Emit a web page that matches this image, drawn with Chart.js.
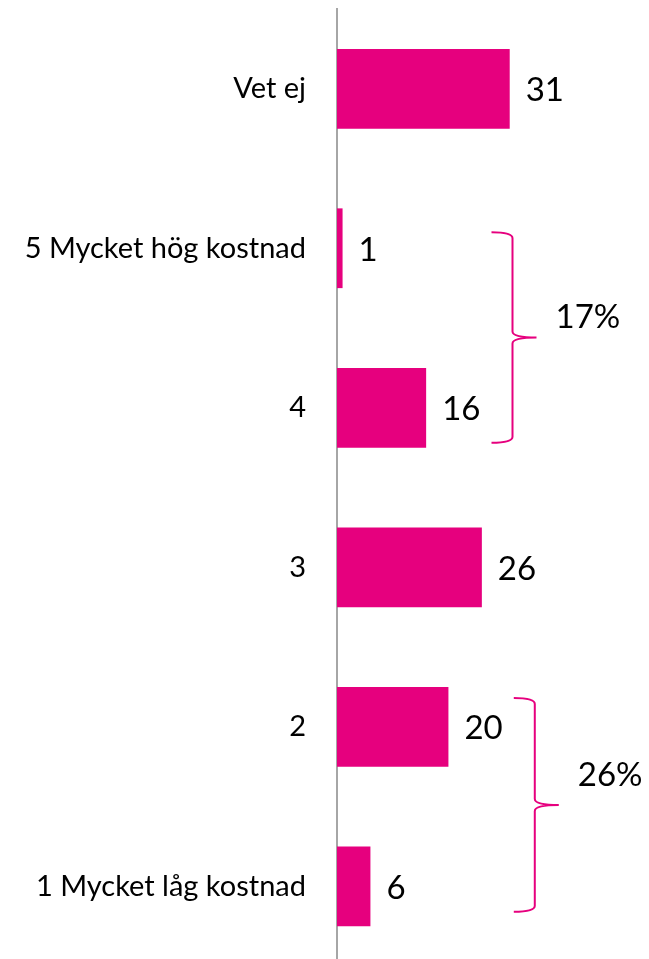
<!DOCTYPE html>
<html>
<head>
<meta charset="utf-8">
<script src="https://cdn.jsdelivr.net/npm/chart.js@4.4.0/dist/chart.umd.min.js"></script>
<style>
  html, body { margin: 0; padding: 0; background: #fff; overflow: hidden; }
  #wrap { width: 649px; height: 968px; }
</style>
</head>
<body>
<div id="wrap"><canvas id="chart" width="649" height="968"></canvas></div>
<script>
const categories = ['Vet ej', '5 Mycket hög kostnad', '4', '3', '2', '1 Mycket låg kostnad'];
const values = [31, 1, 16, 26, 20, 6];

// braces grouping categories (by index) with their summed share
const braceFrom = [1, 4];
const braceTo = [2, 5];
const braceLabels = ['17%', '26%'];

const PINK = '#E6007E';
const FONT = 'Lato, "Open Sans", sans-serif';

// numbers written just right of each bar
const valueLabels = {
    id: 'valueLabels',
    afterDatasetsDraw(chart) {
        const ctx = chart.ctx;
        const meta = chart.getDatasetMeta(0);
        ctx.save();
        ctx.font = '33px ' + FONT;
        ctx.fillStyle = '#000';
        ctx.textBaseline = 'middle';
        ctx.textAlign = 'left';
        meta.data.forEach((bar, i) => {
            ctx.fillText(String(values[i]), bar.x + 16, bar.y + 2);
        });
        ctx.restore();
    }
};

// curly braces with percentage
const braces = {
    id: 'braces',
    afterDraw(chart) {
        const ctx = chart.ctx;
        const x = chart.scales.x;
        const y = chart.scales.y;
        const band = y.getPixelForValue(1) - y.getPixelForValue(0);
        // [top offset, bottom offset (in bands), x value of the spine, label lift]
        const offsets = [[-0.1, 0.22, 31.5, 20], [-0.18, 0.16, 35.5, 30]];
        ctx.save();
        ctx.strokeStyle = PINK;
        ctx.lineWidth = 2;
        braceFrom.forEach((from, k) => {
            const top = y.getPixelForValue(from) + offsets[k][0] * band;
            const bot = y.getPixelForValue(braceTo[k]) + offsets[k][1] * band;
            const mid = (top + bot) / 2;
            const vx = x.getPixelForValue(offsets[k][2]);
            const left = vx - 21;
            const tip = vx + 24;
            const r = 6;
            ctx.beginPath();
            ctx.moveTo(left, top);
            ctx.quadraticCurveTo(vx, top, vx, top + r);
            ctx.lineTo(vx, mid - r);
            ctx.quadraticCurveTo(vx, mid, tip, mid);
            ctx.moveTo(vx, mid + r);
            ctx.quadraticCurveTo(vx, mid, tip, mid);
            ctx.moveTo(vx, mid + r);
            ctx.lineTo(vx, bot - r);
            ctx.quadraticCurveTo(vx, bot, left, bot);
            ctx.stroke();

            ctx.font = '33px ' + FONT;
            ctx.fillStyle = '#000';
            ctx.textBaseline = 'middle';
            ctx.textAlign = 'left';
            ctx.fillText(braceLabels[k], vx + 43, mid - offsets[k][3]);
        });
        ctx.restore();
    }
};

new Chart(document.getElementById('chart'), {
    type: 'bar',
    data: {
        labels: categories,
        datasets: [{
            data: values,
            backgroundColor: PINK,
            barPercentage: 0.5,
            categoryPercentage: 1.0,
        }],
    },
    options: {
        indexAxis: 'y',
        responsive: false,
        animation: false,
        layout: { padding: { top: 9, bottom: 2, left: 0, right: 0 } },
        plugins: {
            legend: { display: false },
            tooltip: { enabled: false },
        },
        scales: {
            x: {
                display: false,
                min: 0,
                max: 56,
            },
            y: {
                grid: { display: false, drawTicks: false },
                border: { display: true, color: '#A6A6A6', width: 2 },
                ticks: {
                    color: '#000',
                    padding: 31,
                    font: { family: FONT, size: 29 },
                },
                afterFit(scale) {
                    scale.width = 337;
                    scale.paddingTop = 0;
                    scale.paddingBottom = 0;
                },
            },
        },
    },
    plugins: [valueLabels, braces],
});
</script>
</body>
</html>
